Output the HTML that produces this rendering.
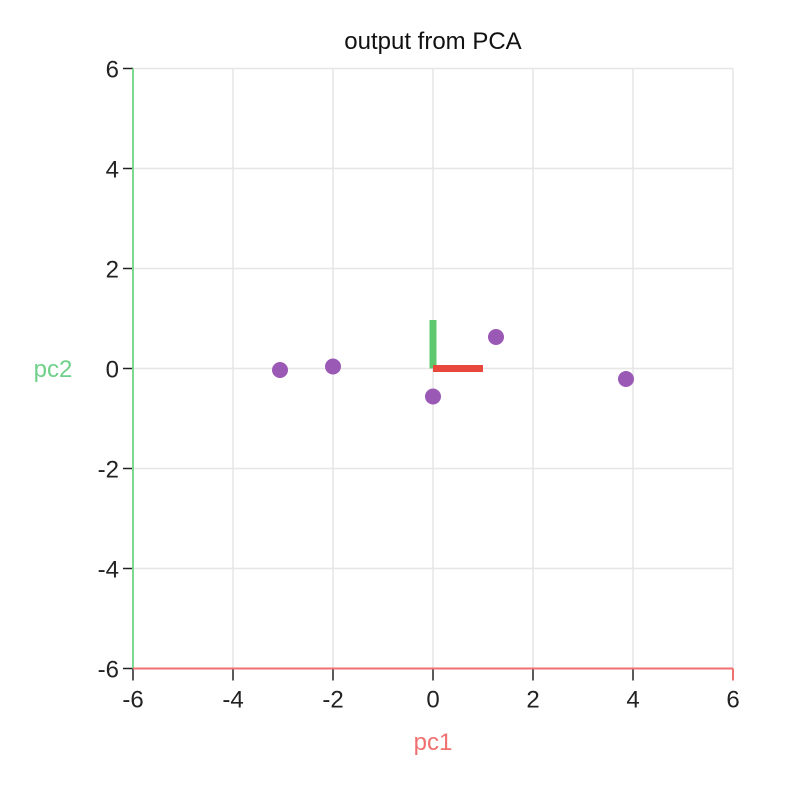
<!DOCTYPE html>
<html><head><meta charset="utf-8"><style>
body{margin:0;background:#fff;width:798px;height:780px;overflow:hidden}
text{font-family:"Liberation Sans",sans-serif}
</style></head><body>
<svg id="chart" width="798" height="780">
<text x="433" y="49" text-anchor="middle" font-size="24" fill="#111">output from PCA</text>
<g id="grid"></g><g id="axes"></g><g id="marks"></g>
<text x="433" y="750" text-anchor="middle" font-size="24" fill="#f07070">pc1</text>
<text x="53" y="377" text-anchor="middle" font-size="24" fill="#6fd08a">pc2</text>
</svg>
<script>
const ticks=[-6,-4,-2,0,2,4,6];
const pc1=[-3.06,-2.0,0.0,1.26,3.86];
const pc2=[-0.03,0.04,-0.56,0.63,-0.21];
const vecX=[1,0];
const vecY=[0,0.97];
const NS="http://www.w3.org/2000/svg";
const sx=v=>433+v*50, sy=v=>368.5-v*50;
function mk(tag,at,parent){const e=document.createElementNS(NS,tag);for(const k in at)e.setAttribute(k,at[k]);document.getElementById(parent).appendChild(e);return e;}
for(let i=-6;i<=6;i+=2){
 let l=mk('line',{x1:sx(i),x2:sx(i),y1:sy(6),y2:sy(-6),stroke:'#e6e6e6','stroke-width':1.5},'grid');
 
 
 l=mk('line',{x1:sx(-6),x2:sx(6),y1:sy(i),y2:sy(i),stroke:'#e6e6e6','stroke-width':1.5},'grid');
 
 
}
ticks.forEach(t=>{
 let a=mk('line',{x1:sx(t),x2:sx(t),y1:sy(-6),y2:sy(-6)+12,stroke:'#222','stroke-width':1.5},'axes');
 
 
 let tx=mk('text',{x:sx(t),y:sy(-6)+39,'text-anchor':'middle','font-size':24,fill:'#222'},'axes');tx.textContent=t;
 
 
 a=mk('line',{x1:sx(-6)-10,x2:sx(-6),y1:sy(t),y2:sy(t),stroke:'#222','stroke-width':1.5},'axes');
 
 
 tx=mk('text',{x:sx(-6)-14,y:sy(t)+9,'text-anchor':'end','font-size':24,fill:'#222'},'axes');tx.textContent=t;
 
 
});
let ax=mk('line',{x1:sx(-6),x2:sx(-6),y1:sy(6),y2:sy(-6),stroke:'#7dd890','stroke-width':2},'axes');


ax=mk('line',{x1:sx(-6),x2:sx(6),y1:sy(-6),y2:sy(-6),stroke:'#f07070','stroke-width':2},'axes');


ax=mk('line',{x1:sx(6),x2:sx(6),y1:sy(-6),y2:sy(-6)+12,stroke:'#f07070','stroke-width':2},'axes');


let v=mk('line',{x1:sx(0),y1:sy(0),x2:sx(vecY[0]),y2:sy(vecY[1]),stroke:'#5cc96e','stroke-width':7},'marks');


v=mk('line',{x1:sx(0),y1:sy(0),x2:sx(vecX[0]),y2:sy(vecX[1]),stroke:'#e8473c','stroke-width':7},'marks');


pc1.forEach((x,i)=>{
 const c=mk('circle',{cx:sx(x),cy:sy(pc2[i]),r:8,fill:'#9b59b6'},'marks');
 
 
});
</script>
</body></html>
